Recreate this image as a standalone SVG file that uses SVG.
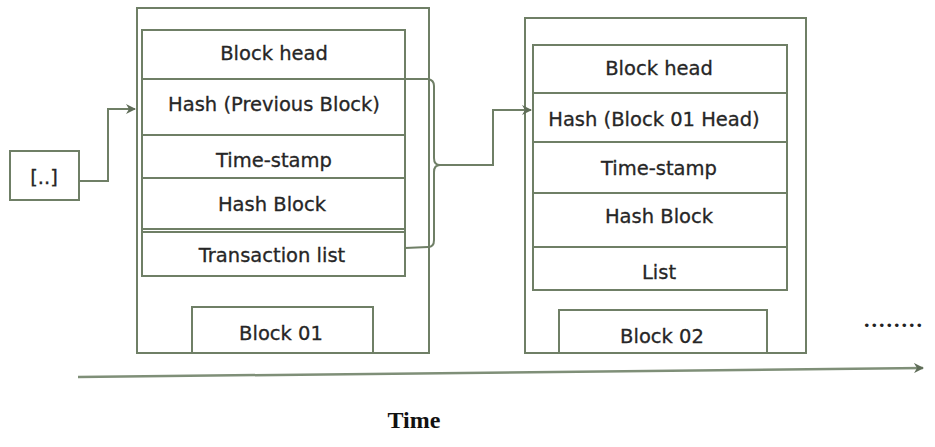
<svg xmlns="http://www.w3.org/2000/svg" width="935" height="447" viewBox="0 0 935 447">
<defs>
<style>
.b{fill:none;stroke:#6f7f66;stroke-width:2}
.t{font-family:"DejaVu Sans","Noto Sans",sans-serif;font-size:19.5px;fill:#262626;stroke:#262626;stroke-width:0.3;text-anchor:middle}
.c{fill:none;stroke:#6f7f66;stroke-width:2}
</style>
<marker id="ah" markerWidth="10" markerHeight="10" refX="9" refY="5" orient="auto" markerUnits="userSpaceOnUse">
<path d="M0,0 L10,5 L0,10 L3,5 Z" fill="#5f6d58"/>
</marker>
</defs>
<rect width="935" height="447" fill="#ffffff"/>
<g id="prev">
<rect class="b" x="10" y="151" width="69" height="49"/>
<text class="t" x="44" y="184">[..]</text>
</g>
<g id="block01">
<rect class="b" x="137" y="8" width="292" height="345"/>
<rect class="b" x="142" y="30" width="263" height="246"/>
<line class="b" x1="142" y1="79" x2="405" y2="79"/>
<line class="b" x1="142" y1="135" x2="405" y2="135"/>
<line class="b" x1="142" y1="178" x2="405" y2="178"/>
<line class="b" x1="142" y1="229" x2="405" y2="229"/>
<line class="b" x1="142" y1="232" x2="405" y2="232"/>
<text class="t" x="274" y="60">Block head</text>
<text class="t" x="274" y="111">Hash (Previous Block)</text>
<text class="t" x="274" y="167">Time-stamp</text>
<text class="t" x="272" y="211">Hash Block</text>
<text class="t" x="272" y="262">Transaction list</text>
<rect class="b" x="192" y="307" width="181" height="46"/>
<text class="t" x="281" y="340">Block 01</text>
</g>
<g id="block02">
<rect class="b" x="525" y="18" width="281" height="335"/>
<rect class="b" x="533" y="45" width="254" height="245"/>
<line class="b" x1="533" y1="93" x2="787" y2="93"/>
<line class="b" x1="533" y1="142" x2="787" y2="142"/>
<line class="b" x1="533" y1="193" x2="787" y2="193"/>
<line class="b" x1="533" y1="247" x2="787" y2="247"/>
<text class="t" x="659" y="75">Block head</text>
<text class="t" x="654" y="126">Hash (Block 01 Head)</text>
<text class="t" x="659" y="175">Time-stamp</text>
<text class="t" x="659" y="223">Hash Block</text>
<text class="t" x="659" y="279">List</text>
<rect class="b" x="559" y="310" width="208" height="43"/>
<text class="t" x="662" y="343">Block 02</text>
</g>
<g id="connectors">
<polyline class="c" points="79,181 108,181 108,109 135,109" marker-end="url(#ah)"/>
<path class="c" d="M405,79 L428,79 Q434,80 434,86 L434,158 Q434,165 440,165 Q434,165 434,172 L434,240 Q434,247 428,247 L405,248"/>
<polyline class="c" points="440,165 493,165 493,110 531,110" marker-end="url(#ah)"/>
<line x1="78" y1="377" x2="923" y2="368" stroke="#7f8f78" stroke-width="2.5" marker-end="url(#ah)"/>
</g>
<text x="894" y="327" font-family="Liberation Serif,serif" font-size="22" font-weight="bold" fill="#222" text-anchor="middle" letter-spacing="2">........</text>
<text x="414" y="428" font-family="Liberation Serif,serif" font-size="24" font-weight="bold" fill="#111" text-anchor="middle">Time</text>
</svg>
